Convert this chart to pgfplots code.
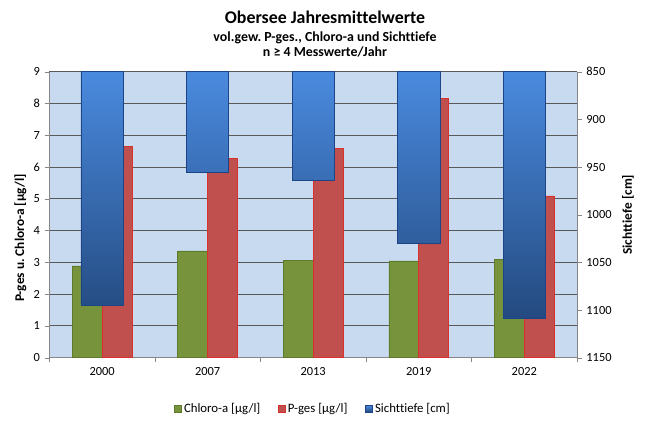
\documentclass[border=0pt]{standalone}
\usepackage{pgfplots}
\pgfplotsset{compat=1.18}
\usepackage{fontspec}
\setmainfont[Ligatures=NoCommon]{Carlito}
\frenchspacing
\definecolor{cgreen}{HTML}{77933C}
\definecolor{cgreenedge}{HTML}{5E7A2C}
\definecolor{cred}{HTML}{C0504D}
\definecolor{crededge}{HTML}{D9312B}
\definecolor{cbluetop}{HTML}{4A8ADE}
\definecolor{cbluebot}{HTML}{244A80}
\definecolor{cblueedge}{HTML}{1C4587}
\definecolor{cbg}{HTML}{C8DAF0}
\definecolor{cgrid}{HTML}{595959}
\definecolor{caxis}{HTML}{868686}
\begin{document}
\frenchspacing
\begin{tikzpicture}
\useasboundingbox (0,0) rectangle (487.5pt,322.5pt);
\node[font=\bfseries\fontsize{13.4}{15}\selectfont] at (243.75pt,309.5pt) {Obersee Jahresmittelwerte};
\node[font=\bfseries\fontsize{10.4}{12}\selectfont] at (243.75pt,294.5pt) {vol.gew. P-ges., Chloro-a und Sichttiefe};
\node[font=\bfseries\fontsize{10.4}{12}\selectfont] at (243.75pt,283.5pt) {n ≥ 4 Messwerte/Jahr};

\pgfplotsset{
  common/.style={
    at={(37pt,54.2pt)}, anchor=south west,
    scale only axis, width=395.8pt, height=214.5pt,
    xmin=-0.5, xmax=4.5,
    tick align=outside,
    major tick length=3.5pt,
    tick style={draw=caxis},
    axis line style={draw=caxis},
    tick label style={font=\fontsize{9.3}{11}\selectfont, text=black},
    /pgf/number format/assume math mode=true,
    label style={font=\bfseries\fontsize{10}{12}\selectfont},
  }
}

\begin{axis}[common,
  ymin=0, ymax=9,
  axis x line*=bottom, axis y line*=left,
  axis background/.style={fill=cbg},
  xtick={-0.5,0.5,...,4.5}, xticklabels={},
  extra x ticks={0,1,2,3,4},
  extra x tick labels={2000,2007,2013,2019,2022},
  extra x tick style={major tick length=0pt, tick label style={yshift=-3.5pt}},
  ytick={0,1,...,9},
  ymajorgrids, grid style={draw=cgrid, line width=0.7pt},
  ylabel={P-ges u. Chloro-a [µg/l]},
  ylabel style={at={(axis description cs:-0.055,0.4185)}, anchor=center},
]
\addplot[ybar, bar width=0.284, bar shift=-0.142, fill=cgreen, draw=cgreenedge, line width=0.4pt]
  coordinates {(0,2.89) (1,3.36) (2,3.07) (3,3.05) (4,3.10)};
\addplot[ybar, bar width=0.284, bar shift=0.142, fill=cred, draw=crededge, line width=0.4pt]
  coordinates {(0,6.66) (1,6.27) (2,6.58) (3,8.17) (4,5.09)};
\end{axis}

\begin{axis}[common,
  ymin=0, ymax=300, y dir=reverse,
  axis x line=none, axis y line*=right,
  y filter/.expression={y-850},
  ytick={0,50,...,300},
  yticklabels={850,900,950,1000,1050,1100,1150},
  ylabel={Sichttiefe [cm]},
  ylabel style={at={(axis description cs:1.0967,0.5)}, anchor=center},
  legend columns=3,
  legend style={at={(0.5,-0.178)}, anchor=center, draw=none, fill=none,
    font=\fontsize{9.6}{11}\selectfont,
    /tikz/every even column/.append style={column sep=11pt}},
  legend image code/.code={\draw[#1] (0pt,-2.6pt) rectangle (5.2pt,2.6pt);},
]
\addlegendimage{fill=cgreen, draw=cgreenedge}
\addlegendentry{Chloro-a [µg/l]}
\addlegendimage{fill=cred, draw=crededge}
\addlegendentry{P-ges [µg/l]}
\addplot[ybar, bar width=0.4, bar shift=0, top color=cbluetop, bottom color=cbluebot, draw=cblueedge, line width=0.5pt]
  coordinates {(0,1095) (1,955) (2,964) (3,1030) (4,1109)};
\addlegendentry{Sichttiefe [cm]}
\end{axis}
\end{tikzpicture}
\end{document}
